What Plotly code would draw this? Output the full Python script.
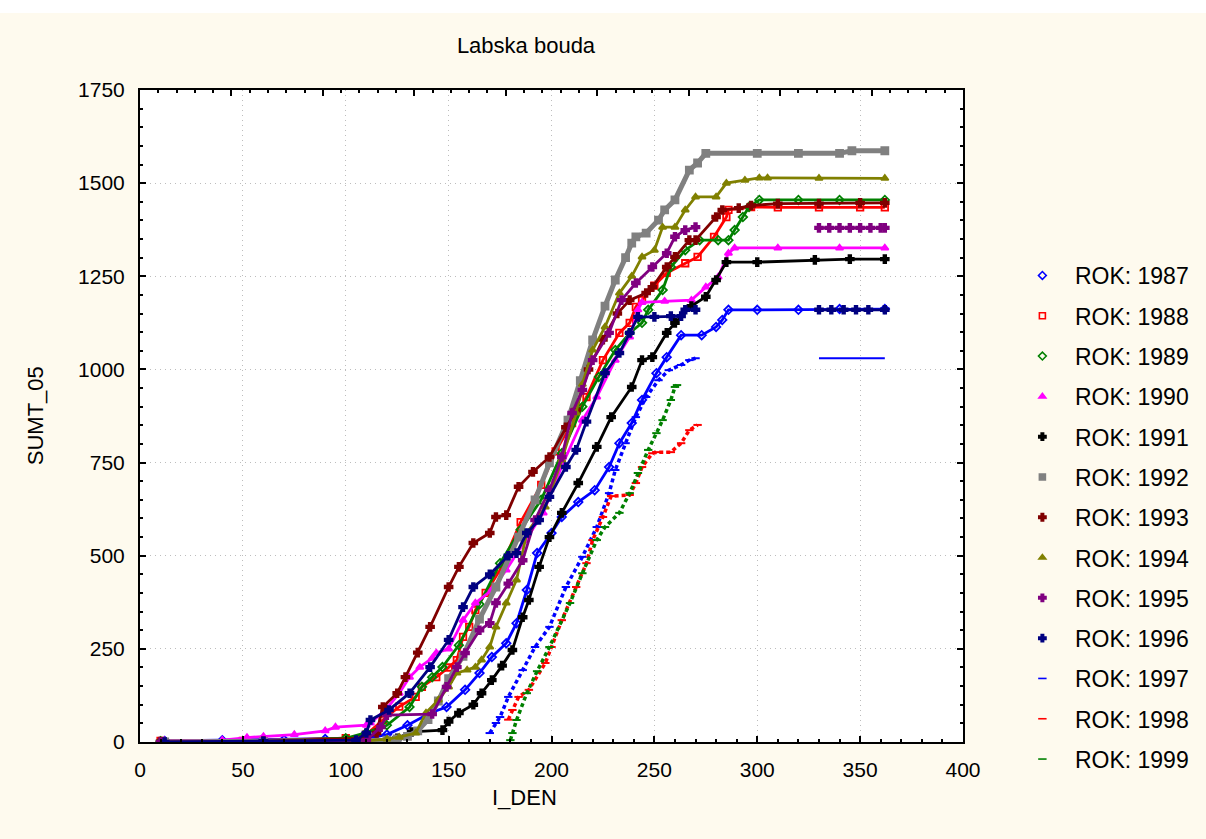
import plotly.graph_objects as go

# ---- data: cumulative temperature sums (SUMT_05) by day of year (I_DEN) ----
years = ["1987", "1988", "1989", "1990", "1991", "1992", "1993",
         "1994", "1995", "1996", "1997", "1998", "1999"]

den_1987 = [12, 40, 70, 90, 110, 120, 130, 141, 149, 158, 165, 171, 178, 183, 188, 193, 200,
            205, 213, 221, 228, 233, 239, 244, 251, 256, 263, 273, 280, 283, 286, 300, 320, 340, 362]
sumt_1987 = [3, 5, 6, 8, 10, 20, 45, 78, 94, 140, 185, 228, 265, 319, 408, 507, 561,
             604, 644, 676, 738, 802, 856, 918, 990, 1033, 1092, 1092, 1114, 1133, 1160, 1160, 1160, 1162, 1162]

den_1988 = [10, 50, 100, 110, 118, 126, 134, 137, 144, 150, 154, 157, 160, 163, 168, 175, 185, 195,
            202, 210, 217, 225, 233, 238, 241, 244, 250, 256, 265, 271, 279, 285, 286, 297, 310, 330, 350, 362]
sumt_1988 = [3, 3, 10, 20, 59, 95, 121, 148, 174, 200, 220, 282, 309, 354, 400, 462, 590, 690,
             780, 856, 926, 1025, 1098, 1125, 1168, 1186, 1225, 1259, 1285, 1302, 1356, 1409, 1428, 1436, 1435, 1435, 1435, 1435]

den_1989 = [10, 60, 100, 110, 120, 131, 137, 142, 147, 155, 165, 175, 185, 195, 205, 215, 223,
            231, 238, 244, 247, 254, 258, 265, 272, 281, 286, 289, 293, 296, 301, 320, 340, 362]
sumt_1989 = [2, 3, 10, 25, 45, 94, 148, 174, 201, 260, 370, 480, 570, 650, 775, 900, 980,
             1052, 1098, 1125, 1160, 1213, 1275, 1320, 1347, 1347, 1347, 1374, 1409, 1436, 1455, 1455, 1455, 1455]

den_1990 = [12, 40, 52, 60, 75, 90, 95, 110, 112, 120, 126, 131, 136, 142, 144, 150, 157, 163, 171,
            178, 187, 196, 205, 215, 222, 231, 238, 242, 244, 255, 268, 275, 281, 286, 289, 310, 340, 362]
sumt_1990 = [3, 5, 12, 15, 20, 30, 40, 45, 51, 90, 131, 174, 201, 225, 239, 250, 327, 373, 408,
             462, 540, 615, 740, 864, 926, 1025, 1087, 1160, 1180, 1183, 1186, 1221, 1248, 1312, 1326, 1326, 1326, 1326]

den_1991 = [12, 60, 110, 125, 132, 147, 150, 155, 162, 166, 171, 176, 181, 186, 189, 194, 199, 205,
            213, 222, 229, 239, 244, 249, 256, 260, 268, 275, 280, 285, 300, 328, 345, 362]
sumt_1991 = [0, 1, 3, 10, 27, 32, 55, 78, 100, 131, 166, 205, 247, 335, 381, 470, 550, 615,
             695, 792, 872, 953, 1025, 1033, 1098, 1125, 1170, 1195, 1240, 1288, 1288, 1294, 1296, 1296]

den_1992 = [12, 60, 110, 120, 125, 130, 135, 140, 145, 150, 157, 165, 173, 184, 192, 199, 208, 214,
            220, 226, 231, 236, 239, 241, 246, 252, 255, 260, 267, 271, 275, 300, 320, 340, 346, 362]
sumt_1992 = [0, 1, 3, 5, 8, 15, 30, 60, 110, 170, 230, 330, 416, 550, 650, 749, 864, 970,
             1079, 1170, 1240, 1300, 1339, 1356, 1366, 1401, 1428, 1455, 1535, 1554, 1580, 1580, 1580, 1580, 1587, 1587]

den_1993 = [10, 60, 110, 115, 118, 125, 129, 135, 141, 150, 155, 162, 170, 173, 178, 184, 191, 199,
            207, 212, 218, 225, 232, 238, 246, 249, 256, 260, 267, 270, 280, 283, 291, 297, 310, 330, 350, 362]
sumt_1993 = [1, 2, 10, 24, 94, 131, 174, 240, 309, 416, 470, 534, 561, 604, 609, 685, 725, 765,
             845, 891, 1000, 1080, 1150, 1186, 1205, 1221, 1275, 1302, 1347, 1347, 1409, 1428, 1433, 1440, 1445, 1445, 1447, 1447]

den_1994 = [12, 60, 110, 120, 126, 134, 139, 145, 150, 154, 159, 163, 166, 170, 173, 178, 183, 188,
            197, 205, 212, 215, 220, 226, 233, 239, 244, 250, 254, 260, 265, 270, 280, 285, 294, 301, 305, 330, 362]
sumt_1994 = [0, 1, 3, 8, 13, 24, 78, 113, 148, 185, 193, 201, 220, 255, 309, 373, 435, 561,
             631, 757, 883, 960, 1052, 1114, 1205, 1250, 1302, 1320, 1382, 1382, 1428, 1463, 1463, 1500, 1508, 1514, 1514, 1513, 1513]

den_1995 = [10, 60, 110, 117, 120, 142, 149, 154, 158, 165, 170, 173, 179, 186, 192, 199, 205, 210,
            215, 220, 228, 234, 241, 249, 256, 260, 265, 270, None,
            330, 335, 340, 345, 350, 355, 360, 362]
sumt_1995 = [0, 1, 5, 40, 72, 75, 148, 201, 239, 300, 319, 373, 425, 488, 596, 676, 765, 883,
             945, 1025, 1098, 1186, 1232, 1275, 1312, 1356, 1374, 1382, None,
             1380, 1380, 1380, 1380, 1380, 1380, 1380, 1380]

den_1996 = [12, 60, 105, 110, 112, 121, 131, 141, 150, 157, 162, 170, 179, 183, 188, 194, 199, 207,
            212, 217, 226, 233, 238, 242, 250, 258, 263, 265, 270, None,
            330, 336, 342, 348, 354, 362]
sumt_1996 = [0, 2, 5, 24, 59, 86, 131, 201, 274, 362, 416, 450, 500, 507, 561, 596, 658, 738,
             784, 860, 990, 1044, 1098, 1141, 1141, 1143, 1143, 1160, 1160, None,
             1160, 1160, 1160, 1160, 1160, 1160]

den_1997 = [170, 173, 175, 179, 186, 192, 199, 207, 215, 222, 228, 231, 236, 241, 246, 252, 257,
            263, 267, 270, None, 330, 362]
sumt_1997 = [24, 51, 67, 121, 193, 255, 309, 416, 497, 577, 668, 730, 802, 872, 926, 971, 998,
             1012, 1025, 1030, None, 1030, 1030]

den_1998 = [179, 181, 184, 189, 197, 200, 205, 212, 217, 220, 225, 229, 238, 241, 244, 249, 251,
            258, 263, 267, 271]
sumt_1998 = [60, 86, 121, 140, 212, 255, 327, 416, 480, 542, 604, 660, 663, 695, 738, 775, 778,
             778, 802, 837, 851]

den_1999 = [180, 181, 183, 188, 193, 199, 209, 215, 222, 226, 233, 238, 242, 247, 251, 254, 258, 260, 261]
sumt_1999 = [5, 24, 59, 131, 190, 255, 373, 453, 542, 577, 615, 668, 722, 784, 829, 864, 918, 953, 958]

x_ticks = [0, 50, 100, 150, 200, 250, 300, 350, 400]
y_ticks = [0, 250, 500, 750, 1000, 1250, 1500, 1750]

# ---- styling per year ----
days = [den_1987, den_1988, den_1989, den_1990, den_1991, den_1992, den_1993,
        den_1994, den_1995, den_1996, den_1997, den_1998, den_1999]
sums = [sumt_1987, sumt_1988, sumt_1989, sumt_1990, sumt_1991, sumt_1992, sumt_1993,
        sumt_1994, sumt_1995, sumt_1996, sumt_1997, sumt_1998, sumt_1999]
colors = ["#0000FF", "#FF0000", "#008000", "#FF00FF", "#000000", "#808080", "#800000",
          "#808000", "#800080", "#000080", "#0000FF", "#FF0000", "#008000"]
symbols = ["diamond-open", "square-open", "diamond-open", "triangle-up", "cross", "square", "cross",
           "triangle-up", "cross", "cross", "line-ew-open", "line-ew-open", "line-ew-open"]

FONT = "Liberation Sans, Arial, sans-serif"
CREAM = "#FEFAEE"


def segments(xs, ys):
    """Split a series at None gaps into continuous pieces."""
    out, cx, cy = [], [], []
    for a, b in zip(xs, ys):
        if a is None:
            if cx:
                out.append((cx, cy))
            cx, cy = [], []
        else:
            cx.append(a)
            cy.append(b)
    if cx:
        out.append((cx, cy))
    return out


fig = go.Figure()

for yr, xs, ys, col, sym in zip(years, days, sums, colors, symbols):
    dashed = sym.startswith("line-ew")
    thick = yr == "1992"
    for sx, sy in segments(xs, ys):
        flat = len(set(sy)) == 1
        if dashed:
            # short horizontal daily ticks; they merge into a solid bar when flat
            line = dict(color=col, width=2 if flat else 3.5, dash="solid" if flat else "4px,3px")
            marker = dict(symbol=sym, color=col, size=6, line=dict(color=col, width=2))
            mode = "lines" if flat else "lines+markers"
        else:
            line = dict(color=col, width=5 if thick else 2.8)
            marker = dict(symbol=sym, color=col, size=7 if thick else 6.5,
                          line=dict(color=col, width=1.8))
            mode = "lines+markers"
        fig.add_trace(go.Scatter(x=sx, y=sy, mode=mode, showlegend=False,
                                 line=line, marker=marker, hoverinfo="skip"))

# legend entries (marker only)
for yr, col, sym in zip(years, colors, symbols):
    fig.add_trace(go.Scatter(
        x=[None], y=[None], mode="markers", name="ROK: " + yr,
        legendgroup=yr,
        marker=dict(symbol=sym, color=col, size=6, line=dict(color=col, width=1.6)),
    ))

# secondary top axis carrying its own tick spacing
fig.add_trace(go.Scatter(x=[None], y=[None], xaxis="x2", showlegend=False, hoverinfo="skip"))

axis_common = dict(
    showline=True, linecolor="black", linewidth=2,
    ticks="inside", ticklen=6, tickwidth=2, tickcolor="black",
    showgrid=True, gridcolor="#BDBDBD", griddash="1px,4px", gridwidth=1.2,
    zeroline=False,
    tickfont=dict(family=FONT, size=21, color="black"),
)

fig.update_layout(
    width=1206, height=839,
    paper_bgcolor=CREAM, plot_bgcolor="white",
    margin=dict(l=140, r=241, t=90, b=97),
    font=dict(family=FONT, color="black"),
    showlegend=True,
    title=dict(text="Labska bouda", x=526 / 1206, xanchor="center",
               y=1 - 45 / 839, yanchor="middle",
               font=dict(family=FONT, size=22, color="black")),
    xaxis=dict(range=[0, 400], tickvals=x_ticks, ticklabelstandoff=8,
               minor=dict(dtick=10, ticks="inside", ticklen=3, tickcolor="black", showgrid=False),
               **axis_common),
    xaxis2=dict(range=[0, 450], overlaying="x", side="top", anchor="y",
                showticklabels=False, showgrid=False, zeroline=False,
                showline=True, linecolor="black", linewidth=2,
                ticks="inside", ticklen=6, tickwidth=2, tickcolor="black", dtick=50,
                minor=dict(dtick=10, ticks="inside", ticklen=3, tickcolor="black")),
    yaxis=dict(range=[0, 1750], tickvals=y_ticks, ticklabelstandoff=9, mirror="ticks",
               minor=dict(dtick=50, ticks="inside", ticklen=3, tickcolor="black", showgrid=False),
               **axis_common),
    legend=dict(x=(1012 - 140) / 825, xanchor="left", y=(742 - 254) / 652, yanchor="top",
                bgcolor="rgba(0,0,0,0)", borderwidth=0,
                font=dict(family=FONT, size=23, color="black"),
                itemwidth=55, tracegroupgap=7.4, traceorder="grouped"),
    annotations=[
        dict(text="I_DEN", xref="paper", yref="paper", x=(525 - 140) / 825, y=(742 - 797) / 652,
             xanchor="center", yanchor="middle", showarrow=False,
             font=dict(family=FONT, size=22, color="black")),
        dict(text="SUMT_05", xref="paper", yref="paper", x=(35 - 140) / 825, y=0.5,
             xanchor="center", yanchor="middle", textangle=-90, showarrow=False,
             font=dict(family=FONT, size=22, color="black")),
    ],
    shapes=[
        dict(type="rect", xref="paper", yref="paper", layer="below",
             x0=-0.2, x1=1.5, y0=(742 - 13) / 652, y1=1.4,
             fillcolor="white", line=dict(width=0)),
    ],
)

fig.write_html("out.html")
